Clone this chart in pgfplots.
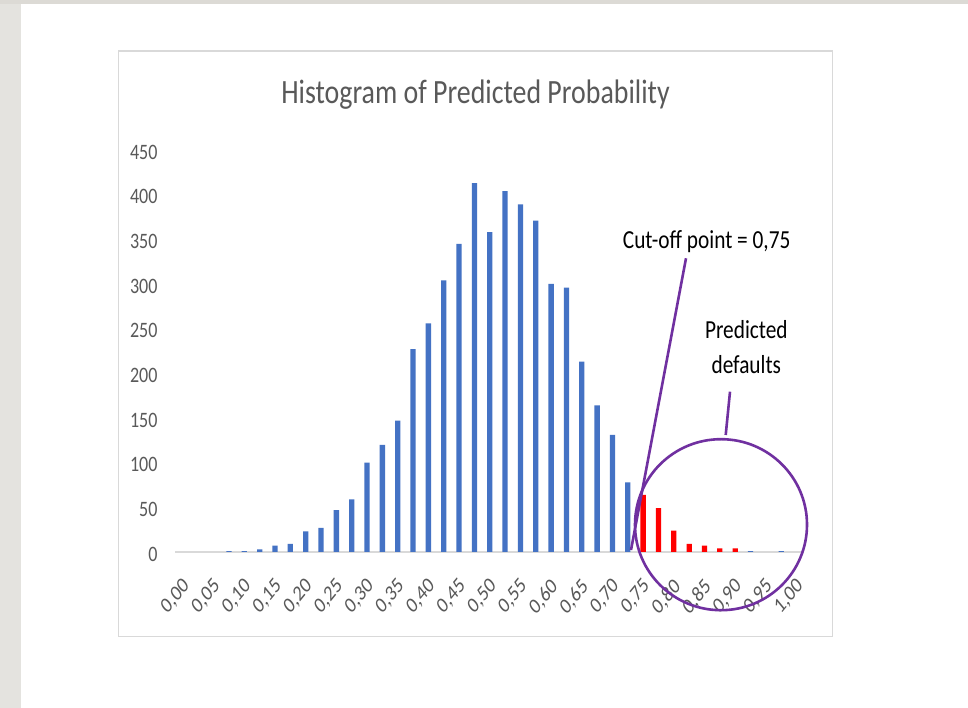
\documentclass[border=0pt]{standalone}
\usepackage{fontspec}
\setmainfont{Carlito}[FakeStretch=0.82]
\newfontfamily\plainfont{Carlito}
\usepackage{pgfplots}
\pgfplotsset{compat=1.18}
\definecolor{xlblue}{HTML}{4472C4}
\definecolor{xlred}{HTML}{FF0000}
\definecolor{purp}{HTML}{7030A0}
\definecolor{tickgray}{HTML}{595959}
\definecolor{axisgray}{HTML}{D9D9D9}
\definecolor{framegray}{HTML}{D9D9D9}
\definecolor{bgleft}{HTML}{E4E3DF}
\definecolor{bgtop}{HTML}{DCDAD5}
\begin{document}
\begin{tikzpicture}[x=1pt,y=1pt]
\fill[white] (0,0) rectangle (968,708);
\fill[bgleft] (0,0) rectangle (20.7,708);
\fill[bgtop] (0,704) rectangle (968,708);
\draw[framegray, line width=1.3pt] (118.3,657) rectangle (832.7,71.3);
\begin{axis}[
  at={(175.3pt,156pt)}, anchor=south west,
  scale only axis, width=628.9pt, height=402pt,
  xmin=-0.5, xmax=40.5, ymin=0, ymax=450,
  axis line style={draw=none}, major tick length=0pt,
  clip=false,
  xtick={0,2,...,40},
  xticklabels={{0,00},{0,05},{0,10},{0,15},{0,20},{0,25},{0,30},{0,35},{0,40},{0,45},{0,50},{0,55},{0,60},{0,65},{0,70},{0,75},{0,80},{0,85},{0,90},{0,95},{1,00}},
  xticklabel style={xshift=-1.3pt, yshift=-24.7pt, xscale=0.82, rotate=45, anchor=north east, inner sep=0pt, text=tickgray, font=\plainfont\fontsize{22}{22}\selectfont},
  ytick={0,50,100,150,200,250,300,350,400,450},
  yticklabels={0,50,100,150,200,250,300,350,400,450},
  yticklabel style={anchor=east, inner sep=0pt, xshift=-17.6pt, yshift=-2pt, text=tickgray, font=\fontsize{22}{22}\selectfont},
]
\draw[axisgray, line width=1.3pt] (rel axis cs:0,0) -- (rel axis cs:1,0);
\addplot[ybar, bar shift=0pt, bar width=5.3pt, fill=xlblue, draw=none] table {
x y
3 1
4 1
5 3
6 7
7 9
8 23
9 27
10 47
11 59
12 100
13 120
14 147
15 227
16 256
17 304
18 345
19 413
20 358
21 404
22 389
23 371
24 300
25 296
26 213
27 164
28 131
29 78
37 1
39 1
};
\addplot[ybar, bar shift=0pt, bar width=5.3pt, fill=xlred, draw=none] table {
x y
30 64
31 49
32 24
33 9
34 7
35 4
36 4
};
\end{axis}
\node[anchor=base, inner sep=0pt, text=tickgray, font=\fontsize{34}{34}\selectfont] at (475.5,604.7) {Histogram of Predicted Probability};
\draw[purp, line width=2.6pt] (686,449.7) -- (631,158);
\draw[purp, line width=2.6pt] (730,316.3) -- (725.7,273);
\draw[purp, line width=2.6pt] (721,183.3) ellipse [x radius=86, y radius=85.5];
\node[anchor=base west, inner sep=0pt, font=\fontsize{26}{26}\selectfont] at (622.7,459.7) {Cut-off point = 0,75};
\node[anchor=base, inner sep=0pt, font=\fontsize{26}{26}\selectfont] at (746.3,369.7) {Predicted};
\node[anchor=base, inner sep=0pt, font=\fontsize{26}{26}\selectfont] at (746.3,334) {defaults};
\end{tikzpicture}
\end{document}
